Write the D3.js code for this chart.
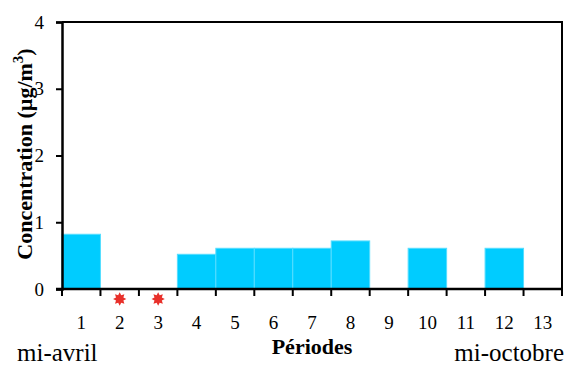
<!DOCTYPE html>
<html>
<head>
<meta charset="utf-8">
<script src="https://cdnjs.cloudflare.com/ajax/libs/d3/7.8.5/d3.min.js"></script>
<style>
	body { margin: 0; background: white; }
	text { font-family: "Liberation Serif", "Times New Roman", serif; fill: black; }
</style>
</head>
<body>
<div id="chart"></div>
<script>
var periods = ["1", "2", "3", "4", "5", "6", "7", "8", "9", "10", "11", "12", "13"];
var concentrations = [0.82, null, null, 0.52, 0.61, 0.61, 0.61, 0.72, null, 0.61, null, 0.61, null];
var belowLimit = ["2", "3"];
var yTicks = [0, 1, 2, 3, 4];

var width = 568, height = 367;
var margin = {left: 62, right: 6, top: 22, bottom: 78};

var svg = d3.select("#chart")
	.append("svg")
	.attr("width", width)
	.attr("height", height);

var x = d3.scaleBand()
	.domain(periods)
	.range([margin.left, width - margin.right])
	.padding(0);

var y = d3.scaleLinear()
	.domain([0, 4])
	.range([height - margin.bottom, margin.top]);

// bars
svg.selectAll(".bar")
	.data(periods.map(function(p, i) { return {p: p, v: concentrations[i]}; }).filter(function(d) { return d.v != null; }))
	.enter()
	.append("rect")
	.attr("class", "bar")
	.attr("x", function(d) { return x(d.p); })
	.attr("width", x.bandwidth())
	.attr("y", function(d) { return y(d.v); })
	.attr("height", function(d) { return y(0) - y(d.v); })
	.attr("fill", "#00ccff")
	.attr("stroke", "#55ddff")
	.attr("stroke-width", 1);

// frame top and right
svg.append("path")
	.attr("d", "M" + x.range()[0] + "," + y(4) + "H" + x.range()[1] + "V" + y(0))
	.attr("fill", "none")
	.attr("stroke", "black")
	.attr("stroke-width", 2);

// y axis
var yAxis = svg.append("g")
	.attr("transform", "translate(" + x.range()[0] + ",0)")
	.call(d3.axisLeft(y).tickValues(yTicks).tickSize(6).tickPadding(12).tickFormat(d3.format("d")));
yAxis.attr("font-family", null);
yAxis.select(".domain").attr("stroke-width", 2.5);
yAxis.selectAll(".tick line").attr("stroke-width", 2);
yAxis.selectAll(".tick text")
	.attr("font-size", 19);

// x axis: ticks at band boundaries
var bounds = periods.map(function(p) { return x(p); }).concat([x.range()[1]]);
svg.append("line")
	.attr("x1", x.range()[0] - 6)
	.attr("x2", x.range()[1])
	.attr("y1", y(0))
	.attr("y2", y(0))
	.attr("stroke", "black")
	.attr("stroke-width", 2.5);
svg.selectAll(".xtick")
	.data(bounds)
	.enter()
	.append("line")
	.attr("x1", function(d) { return d; })
	.attr("x2", function(d) { return d; })
	.attr("y1", y(0))
	.attr("y2", y(0) + 7)
	.attr("stroke", "black")
	.attr("stroke-width", 2);
svg.selectAll(".xlabel")
	.data(periods)
	.enter()
	.append("text")
	.attr("x", function(d) { return x(d) + x.bandwidth() / 2; })
	.attr("y", y(0) + 40)
	.attr("text-anchor", "middle")
	.attr("font-size", 19)
	.text(function(d) { return d; });

// stars for periods below detection
var star = d3.symbol().type(function() {
	return {
		draw: function(ctx, size) {
			var r = Math.sqrt(size), ri = r * 0.6, n = 8;
			for (var k = 0; k < n * 2; k++) {
				var a = Math.PI * k / n - Math.PI / 2;
				var rr = k % 2 === 0 ? r : ri;
				if (k === 0) ctx.moveTo(rr * Math.cos(a), rr * Math.sin(a));
				else ctx.lineTo(rr * Math.cos(a), rr * Math.sin(a));
			}
			ctx.closePath();
		}
	};
}()).size(44);
svg.selectAll(".star")
	.data(belowLimit)
	.enter()
	.append("path")
	.attr("d", star)
	.attr("transform", function(d) { return "translate(" + (x(d) + x.bandwidth() / 2) + "," + (y(0) + 10) + ")"; })
	.attr("fill", "#e8302a");

// titles
svg.append("text")
	.attr("transform", "translate(32,154) rotate(-90)")
	.attr("text-anchor", "middle")
	.attr("font-size", 22)
	.attr("font-weight", "bold")
	.html('Concentration (µg/m<tspan dy="-9" font-size="15">3</tspan><tspan dy="9">)</tspan>');

svg.append("text")
	.attr("x", 312)
	.attr("y", 354)
	.attr("text-anchor", "middle")
	.attr("font-size", 22)
	.attr("font-weight", "bold")
	.text("Périodes");

svg.append("text")
	.attr("x", 17)
	.attr("y", 361)
	.attr("font-size", 25)
	.text("mi-avril");

svg.append("text")
	.attr("x", 564)
	.attr("y", 361)
	.attr("text-anchor", "end")
	.attr("font-size", 25)
	.text("mi-octobre");
</script>
</body>
</html>
